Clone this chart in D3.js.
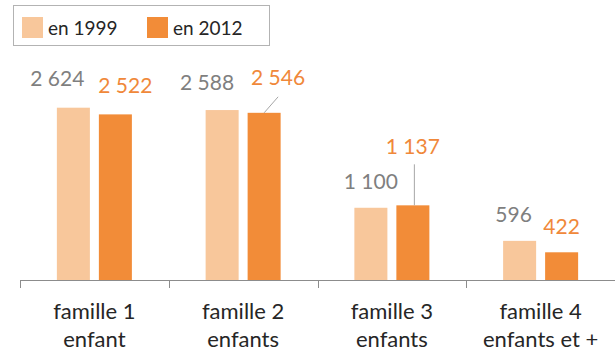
<!DOCTYPE html>
<html>
<head>
<meta charset="utf-8">
<script src="https://cdn.jsdelivr.net/npm/d3@7"></script>
<style>
  body { margin: 0; background: #fff; }
  svg { display: block; font-family: Lato, "Open Sans", sans-serif; }
</style>
</head>
<body>
<script>
// data
var categories = [["famille 1", "enfant"], ["famille 2", "enfants"], ["famille 3", "enfants"], ["famille 4", "enfants et +"]];
var seriesNames = ["en 1999", "en 2012"];
var values1999 = [2624, 2588, 1100, 596];
var values2012 = [2522, 2546, 1137, 422];

var width = 615, height = 351;
var colors = ["#f8c79b", "#f28c38"];
var labelColors = ["#7f7f7f", "#f0883a"];

// label nudges (as placed by hand in the original), [dx, dy] from bar centre/top
var nudge = [
  [[-16, -22], [10, -21]],
  [[-15, -20], [14, -28]],
  [[0, -19], [0, -51]],
  [[-6, -19], [0, -18]]
];

var svg = d3.select("body").append("svg")
  .attr("width", width)
  .attr("height", height);

var baseY = 280;

var x = d3.scaleBand()
  .domain(d3.range(categories.length))
  .range([20, 615]);

var xInner = d3.scaleBand()
  .domain([0, 1])
  .range([0, x.bandwidth()])
  .paddingInner(0.214)
  .paddingOuter(0.878);

var y = d3.scaleLinear()
  .domain([0, 3000])
  .range([baseY, 83]);

var series = [values1999, values2012];

var groups = svg.append("g").selectAll("g")
  .data(categories)
  .enter().append("g")
  .attr("transform", (d, i) => "translate(" + x(i) + ",0)");

groups.each(function(c, i){
  var g = d3.select(this);
  series.forEach(function(vals, s){
    var v = vals[i];
    var bx = xInner(s), bw = xInner.bandwidth();
    var cx = bx + bw / 2;
    g.append("rect")
      .attr("x", bx)
      .attr("y", y(v))
      .attr("width", bw)
      .attr("height", baseY - y(v))
      .style("fill", colors[s]);

    var lx = cx + nudge[i][s][0], ly = y(v) + nudge[i][s][1];

    // leader lines where the label was pulled away
    if (i == 1 && s == 1) {
      g.append("line")
        .attr("x1", cx).attr("y1", y(v))
        .attr("x2", lx).attr("y2", ly + 12)
        .style("stroke", "#a6a6a6").style("stroke-width", 1);
    }
    if (i == 2 && s == 1) {
      g.append("line")
        .attr("x1", cx + 1.5).attr("y1", ly + 10)
        .attr("x2", cx + 1.5).attr("y2", y(v))
        .style("stroke", "#a6a6a6").style("stroke-width", 1);
    }

    g.append("text")
      .attr("x", lx)
      .attr("y", ly)
      .attr("text-anchor", "middle")
      .style("font-size", "21px")
      .style("fill", labelColors[s])
      .text(d3.format(",")(v).replace(",", " "));
  });
});

// axis
var axis = svg.append("g").attr("class", "axis");
axis.append("line")
  .attr("x1", 20).attr("x2", width)
  .attr("y1", baseY + 0.5).attr("y2", baseY + 0.5)
  .style("stroke", "#8c8c8c").style("stroke-width", 1);

axis.selectAll(".tick")
  .data(d3.range(categories.length))
  .enter().append("line")
  .attr("class", "tick")
  .attr("x1", d => Math.round(x(d)) + 0.5)
  .attr("x2", d => Math.round(x(d)) + 0.5)
  .attr("y1", baseY)
  .attr("y2", baseY + 8)
  .style("stroke", "#8c8c8c").style("stroke-width", 1);

var catLabels = axis.selectAll(".cat")
  .data(categories)
  .enter().append("text")
  .attr("class", "cat")
  .attr("text-anchor", "middle")
  .style("font-size", "22px")
  .style("fill", "#262626");

catLabels.each(function(c, i){
  var t = d3.select(this);
  c.forEach(function(line, k){
    t.append("tspan")
      .attr("x", x(i) + x.bandwidth() / 2)
      .attr("y", 319 + k * 28)
      .text(line);
  });
});

// legend
var legend = svg.append("g").attr("class", "legend");
legend.append("rect")
  .attr("x", 13.5).attr("y", 5.5)
  .attr("width", 256).attr("height", 40)
  .style("fill", "#fff")
  .style("stroke", "#b3b3b3").style("stroke-width", 1);

var legX = [22, 147];
seriesNames.forEach(function(name, s){
  legend.append("rect")
    .attr("x", legX[s]).attr("y", 17)
    .attr("width", 21).attr("height", 21)
    .style("fill", colors[s]);
  legend.append("text")
    .attr("x", legX[s] + 26).attr("y", 35)
    .style("font-size", "19px")
    .style("fill", "#262626")
    .text(name);
});
</script>
</body>
</html>
